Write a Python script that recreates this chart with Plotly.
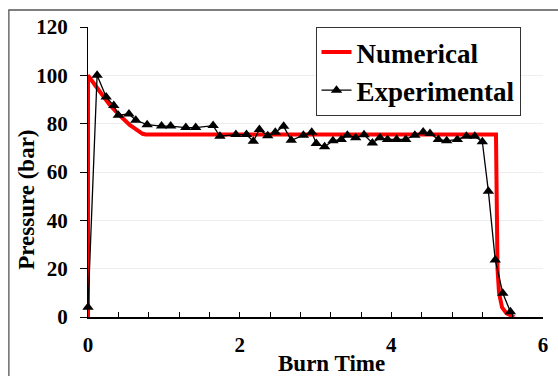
import plotly.graph_objects as go

# Numerical (simulation) curve
num_t = [0, 0, 0.08, 0.16, 0.28, 0.40, 0.55, 0.72, 0.76, 5.38, 5.39, 5.40, 5.42, 5.46, 5.52, 5.62]
num_p = [0, 100, 96.5, 93, 88, 84, 79.5, 75.8, 75.5, 75.5, 45, 20, 10, 4, 1.5, 0]

# Experimental measurements
exp_t = [0, 0.12, 0.24, 0.34, 0.40, 0.54, 0.63, 0.78, 0.97, 1.09, 1.29, 1.42, 1.65, 1.74,
         1.95, 2.09, 2.18, 2.26, 2.37, 2.47, 2.58, 2.68, 2.84, 2.95, 3.01, 3.12, 3.23, 3.34,
         3.42, 3.53, 3.64, 3.75, 3.85, 3.95, 4.07, 4.19, 4.31, 4.42, 4.51, 4.62, 4.73, 4.87,
         4.99, 5.10, 5.20, 5.28, 5.37, 5.47, 5.57]
exp_p = [4, 100, 91, 87.5, 83.5, 84, 81.4, 79.6, 79, 79, 78.4, 78.4, 79.2, 74.8,
         75.5, 75.5, 72.7, 77.6, 75, 76.4, 78.9, 73.1, 75.2, 76.4, 71.8, 70.4, 72.9, 73.5,
         75.2, 74.2, 75.4, 72.0, 74.2, 73.5, 73.5, 73.5, 75.2, 76.6, 75.9, 73.5, 72.9, 73.5,
         74.8, 74.8, 72.5, 52, 23.6, 9.8, 2.2]

x_ticks = [0, 2, 4, 6]
y_ticks = [0, 20, 40, 60, 80, 100, 120]

FONT = "Liberation Serif"

fig = go.Figure()
fig.add_trace(go.Scatter(x=num_t, y=num_p, mode="lines", name="Numerical",
                         line=dict(color="#ff0000", width=4), cliponaxis=False))
fig.add_trace(go.Scatter(x=exp_t, y=exp_p, mode="lines+markers", name="Experimental",
                         line=dict(color="black", width=1.3),
                         marker=dict(symbol="triangle-up", size=10, color="black"),
                         cliponaxis=False))

fig.update_layout(
    width=558, height=376,
    margin=dict(l=88, r=10, t=27, b=59),
    paper_bgcolor="white", plot_bgcolor="white",
    showlegend=True,
    legend=dict(x=0.5, y=1.0, xanchor="left", yanchor="top",
                bgcolor="white", bordercolor="#333333", borderwidth=1,
                font=dict(family=FONT, size=27, color="black", weight="bold"),
                itemwidth=30, tracegroupgap=0),
    xaxis=dict(range=[0, 6], tickvals=x_ticks, ticktext=[str(v) for v in x_ticks],
               showline=True, linecolor="black", linewidth=1.5,
               ticks="inside", ticklen=5, tickcolor="black", tickwidth=1,
               minor=dict(dtick=0.4, ticks="inside", ticklen=5, tickcolor="black", tickwidth=1),
               showgrid=False, zeroline=False, ticklabelstandoff=8,
               tickfont=dict(family=FONT, size=21, color="black", weight="bold")),
    yaxis=dict(range=[0, 120], tickvals=y_ticks, ticktext=[str(v) for v in y_ticks],
               showline=True, linecolor="black", linewidth=1,
               ticks="outside", ticklen=7, tickcolor="black", tickwidth=1,
               showgrid=True, gridcolor="#eeeeee", gridwidth=1, zeroline=False,
               ticklabelstandoff=8,
               tickfont=dict(family=FONT, size=21, color="black", weight="bold")),
    shapes=[dict(type="rect", xref="paper", yref="paper",
                 x0=-0.1739, y0=-0.3, x1=1.15, y1=1.0586,
                 line=dict(color="#555555", width=1.3), fillcolor="rgba(0,0,0,0)",
                 layer="below")],
    annotations=[
        dict(text="Burn Time", xref="paper", yref="paper", x=0.535, y=-0.162,
             xanchor="center", yanchor="middle", showarrow=False,
             font=dict(family=FONT, size=23, color="black", weight="bold")),
        dict(text="Pressure (bar)", xref="paper", yref="paper", x=-0.137, y=0.403,
             xanchor="center", yanchor="middle", showarrow=False, textangle=-90,
             font=dict(family=FONT, size=23, color="black", weight="bold")),
    ],
)

fig.write_html("out.html")
